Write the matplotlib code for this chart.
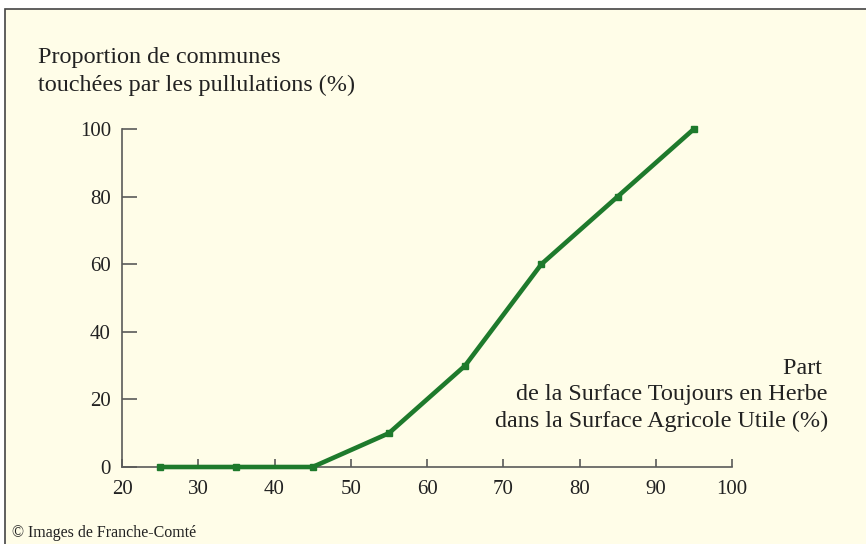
import matplotlib.pyplot as plt
from matplotlib.patches import Rectangle

# data
share_sth = [25, 35, 45, 55, 65, 75, 85, 95]
pct_communes = [0, 0, 0, 10, 30, 60, 80, 100]
xticks = [20, 30, 40, 50, 60, 70, 80, 90, 100]
yticks = [0, 20, 40, 60, 80, 100]

plt.rcParams['font.family'] = ['Liberation Serif', 'DejaVu Serif']
bg = '#fffde8'
axis_col = '#5a5a5a'
green = '#1e7a2c'
txt = '#222222'

fig = plt.figure(figsize=(8.66, 5.44), dpi=100, facecolor='white')
# cream panel with a dark edge on top and left
fig.patches.append(Rectangle((5 / 866, -0.1), 1.1, 1.1 - 9 / 544, transform=fig.transFigure,
                             facecolor=bg, edgecolor='#444444', linewidth=1.2, zorder=-5))

ax = fig.add_axes([122 / 866, 1 - 467 / 544, (732 - 122) / 866, (467 - 129) / 544])
ax.set_facecolor('none')
ax.plot(share_sth, pct_communes, color=green, linewidth=3.3, marker='s', markersize=4.5,
        clip_on=False, zorder=3)

ax.set_xlim(20, 100)
ax.set_ylim(0, 100)
ax.set_xticks(xticks)
ax.set_yticks(yticks)
for s in ['top', 'right']:
    ax.spines[s].set_visible(False)
for s in ['left', 'bottom']:
    ax.spines[s].set_color(axis_col)
    ax.spines[s].set_linewidth(1.2)
ax.tick_params(direction='in', width=1.2, color=axis_col, labelsize=15, labelcolor=txt)
ax.tick_params(axis='y', length=10.5, pad=8)
ax.tick_params(axis='x', length=6, pad=9)

fig.text(38 / 866, 1 - 91 / 544, 'Proportion de communes\ntouchées par les pullulations (%)',
         ha='left', va='baseline', fontsize=17.4, color=txt, linespacing=1.45)
fig.text(828 / 866, 1 - 427 / 544,
         'Part \nde la Surface Toujours en Herbe\ndans la Surface Agricole Utile (%)',
         ha='right', va='baseline', fontsize=17.4, color=txt, linespacing=1.33,
         multialignment='right')
fig.text(12 / 866, 1 - 537 / 544, '© Images de Franche-Comté', ha='left', va='baseline',
         fontsize=11.5, color=txt)

fig.savefig('out.png', dpi=100, facecolor=fig.get_facecolor())
